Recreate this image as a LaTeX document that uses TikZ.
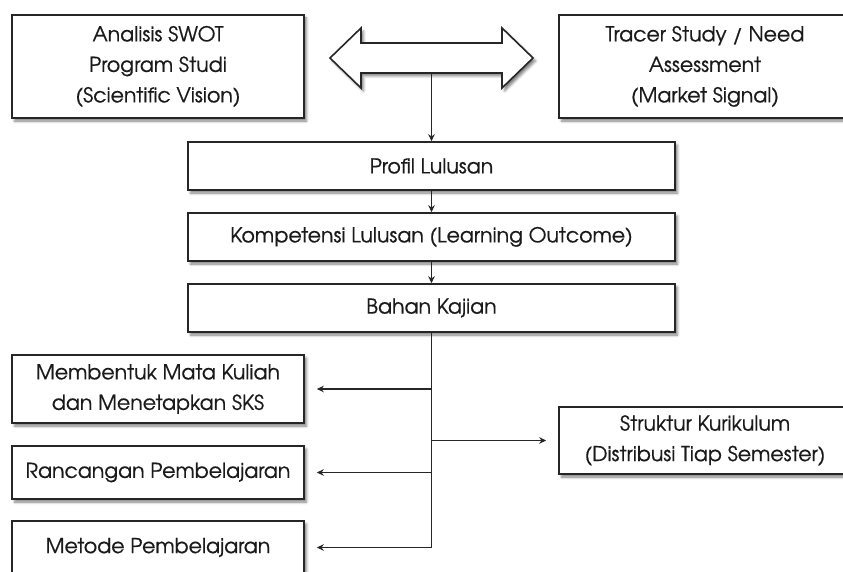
\documentclass[tikz,border=0pt]{standalone}
\usepackage{fontspec}
\setmainfont[FakeBold=0.5]{TeX Gyre Adventor}
\usetikzlibrary{shadows.blur,arrows.meta}
\definecolor{txt}{HTML}{1A1A1A}
\tikzset{
  box/.style={draw=black!85, line width=1.6pt, fill=white, inner sep=0pt,
    align=center, text=txt, font=\fontsize{20.5}{30.5}\selectfont,
    blur shadow={shadow xshift=2.5pt, shadow yshift=-3pt, shadow blur radius=2.5pt, shadow opacity=50}},
  wide/.style={box, minimum width=487pt, minimum height=48pt},
  side/.style={box, minimum width=292pt},
  conn/.style={draw=black!85, line width=1.5pt},
  arr/.style={conn, -{Stealth[length=7pt,width=6.5pt]}}
}
\begin{document}
\begin{tikzpicture}[x=1pt,y=-1pt]
\useasboundingbox (0,0) rectangle (843,572);
\clip (0,0) rectangle (843,572);
% top boxes
\node[side, minimum height=103pt] (swot) at (158,66.5) {Analisis SWOT\\Program Studi\\(Scientific Vision)};
\node[side, minimum height=103pt] (tracer) at (705,66.5) {Tracer Study / Need\\Assessment\\(Market Signal)};
% double arrow
\draw[draw=black!85, line width=1.6pt, fill=white, line join=miter,
  blur shadow={shadow xshift=2.5pt, shadow yshift=-3pt, shadow blur radius=2.5pt, shadow opacity=50}]
  (330,58) -- (361,28) -- (361,43) -- (502,43) -- (502,28) -- (533,58)
  -- (502,88) -- (502,73) -- (361,73) -- (361,88) -- cycle;
\coordinate (dbl) at (431.5,73);
% main chain
\node[wide] (profil) at (431.5,166) {Profil Lulusan};
\node[wide] (komp) at (431.5,237) {Kompetensi Lulusan (Learning Outcome)};
\node[wide] (bahan) at (431.5,308) {Bahan Kajian};
% lower boxes
\node[side, minimum height=68pt] (mk) at (158,389) {Membentuk Mata Kuliah\\dan Menetapkan SKS};
\node[side, minimum height=53pt] (ranc) at (158,472.5) {Rancangan Pembelajaran};
\node[side, minimum height=53pt] (met) at (158,547.5) {Metode Pembelajaran};
\node[side, minimum height=67pt] (struk) at (705,440.5) {Struktur Kurikulum\\(Distribusi Tiap Semester)};
% connectors
\draw[arr] (dbl) -- (profil.north);
\draw[arr] (profil) -- (komp);
\draw[arr] (komp) -- (bahan);
\coordinate (tend) at (bahan.south |- met.east);
\draw[conn] (bahan.south) -- (tend);
\draw[arr] (bahan.south |- mk.east) -- ([xshift=12pt]mk.east);
\draw[arr] (bahan.south |- ranc.east) -- ([xshift=12pt]ranc.east);
\draw[arr] (tend) -- ([xshift=12pt]met.east);
\draw[arr] (bahan.south |- struk.west) -- ([xshift=-12pt]struk.west);
\end{tikzpicture}
\end{document}
